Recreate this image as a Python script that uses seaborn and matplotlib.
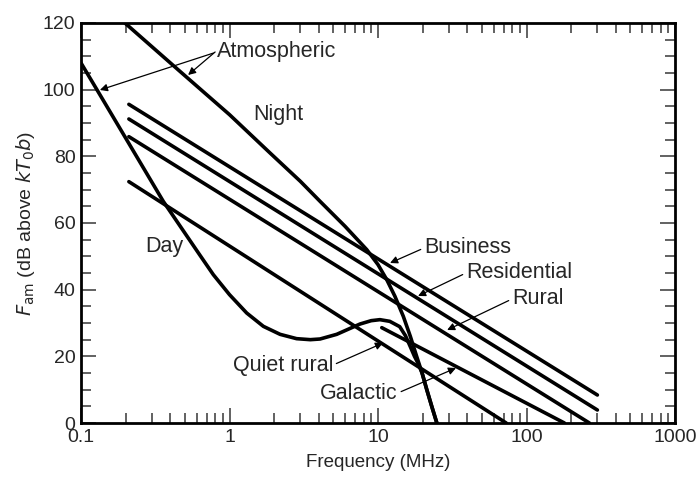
import numpy as np
import pandas as pd
import matplotlib
matplotlib.use("Agg")
import matplotlib.pyplot as plt
import seaborn as sns
from matplotlib.ticker import FixedLocator, MultipleLocator, LogLocator, NullFormatter

# --- data (frequency in MHz, Fam in dB) ---
night_f = [0.193, 0.45, 1.0, 1.875, 3.0, 4.07, 6.0, 8.4, 10.0, 11.45, 13.0,
           14.8, 16.5, 18.2, 19.8, 21.3, 23.0, 24.9]
night_fam = [120.4, 106.0, 92.5, 81.0, 72.5, 66.5, 59.0, 52.0, 47.5, 43.0, 38.0,
             32.0, 26.0, 20.0, 15.0, 10.0, 5.0, 0.0]

day_f = [0.1, 0.134, 0.219, 0.358, 0.5, 0.633, 0.778, 1.0, 1.305, 1.69, 2.19,
         2.83, 3.5, 4.07, 5.27, 6.5, 7.57, 9.0, 10.3, 12.0, 14.0, 15.3, 16.5,
         17.6, 18.6, 19.8, 21.3, 23.0, 24.9]
day_fam = [108.0, 98.5, 82.5, 66.5, 57.0, 50.3, 44.5, 38.5, 33.0, 29.0, 26.6,
           25.3, 25.0, 25.2, 26.6, 28.4, 29.7, 30.7, 31.0, 30.5, 28.9, 26.2, 22.9,
           20.0, 17.9, 15.0, 10.0, 5.0, 0.0]

business_f = [0.21, 300]
business_fam = [95.6, 8.4]
residential_f = [0.21, 300]
residential_fam = [91.2, 3.9]
rural_f = [0.21, 265]
rural_fam = [85.9, 0.0]
quiet_f = [0.21, 73]
quiet_fam = [72.4, 0.0]
galactic_f = [10.6, 180]
galactic_fam = [28.6, 0.0]

x_ticks = [0.1, 1, 10, 100, 1000]
x_labels = ["0.1", "1", "10", "100", "1000"]
y_ticks = [0, 20, 40, 60, 80, 100, 120]

curves = {
    "Night": (night_f, night_fam),
    "Day": (day_f, day_fam),
    "Business": (business_f, business_fam),
    "Residential": (residential_f, residential_fam),
    "Rural": (rural_f, rural_fam),
    "Quiet rural": (quiet_f, quiet_fam),
    "Galactic": (galactic_f, galactic_fam),
}
df = pd.concat([pd.DataFrame({"freq": f, "fam": v, "curve": name})
                for name, (f, v) in curves.items()], ignore_index=True)

# --- style ---
sns.set_style("ticks")
plt.rcParams["font.family"] = ["Liberation Sans", "DejaVu Sans"]
plt.rcParams["mathtext.fontset"] = "dejavusans"

fig = plt.figure(figsize=(6.99, 4.82), dpi=100)
ax = fig.add_axes([0.1159, 0.1224, 0.8498, 0.8299])

sns.lineplot(data=df, x="freq", y="fam", units="curve", estimator=None,
             sort=False, color="black", lw=2.6, ax=ax)

ax.set_xscale("log")
ax.set_xlim(0.1, 1000)
ax.set_ylim(0, 120)
ax.xaxis.set_major_locator(FixedLocator(x_ticks))
ax.set_xticklabels(x_labels)
ax.xaxis.set_minor_locator(LogLocator(base=10, subs=np.arange(2, 10)))
ax.xaxis.set_minor_formatter(NullFormatter())
ax.set_yticks(y_ticks)
ax.yaxis.set_minor_locator(MultipleLocator(5))

for s in ax.spines.values():
    s.set_linewidth(2.0)
    s.set_color("black")
ax.tick_params(which="both", direction="in", top=True, right=True,
               color="#555555", labelsize=14, pad=4)
ax.tick_params(which="major", length=11, width=1.3)
ax.tick_params(which="minor", length=7, width=1.3)

ax.set_xlabel("Frequency (MHz)", fontsize=13.5, labelpad=6)
ax.set_ylabel(r"$F_{\mathrm{am}}$ (dB above $kT_0b$)", fontsize=14, labelpad=4)

# --- labels and arrows ---
arrow = dict(arrowstyle="-|>", lw=0.9, color="black", mutation_scale=11,
             shrinkA=0, shrinkB=0)
fs = 15.5

ax.annotate("Atmospheric", xy=(0.134, 99.9), xytext=(0.82, 111.3), fontsize=fs,
            va="center", ha="left",
            arrowprops=dict(arrow, relpos=(0, 0.5)))
ax.annotate("", xy=(0.526, 104.4), xytext=(0.80, 111.3),
            arrowprops=arrow)
ax.text(2.12, 92.4, "Night", fontsize=fs, ha="center", va="center")
ax.text(0.362, 52.8, "Day", fontsize=fs, ha="center", va="center")

ax.annotate("Business", xy=(12.05, 48.0), xytext=(20.4, 52.5), fontsize=fs,
            va="center", ha="left", arrowprops=dict(arrow, relpos=(0, 0.5)))
ax.annotate("Residential", xy=(18.6, 38.1), xytext=(39.1, 45.0), fontsize=fs,
            va="center", ha="left", arrowprops=dict(arrow, relpos=(0, 0.5)))
ax.annotate("Rural", xy=(29.2, 27.9), xytext=(79.8, 37.2), fontsize=fs,
            va="center", ha="left", arrowprops=dict(arrow, relpos=(0, 0.5)))
ax.annotate("Quiet rural", xy=(10.8, 24.0), xytext=(4.98, 17.4), fontsize=fs,
            va="center", ha="right", arrowprops=dict(arrow, relpos=(1, 0.5)))
ax.annotate("Galactic", xy=(33.5, 16.5), xytext=(13.6, 9.0), fontsize=fs,
            va="center", ha="right", arrowprops=dict(arrow, relpos=(1, 0.5)))

fig.savefig("out.png", dpi=100)
